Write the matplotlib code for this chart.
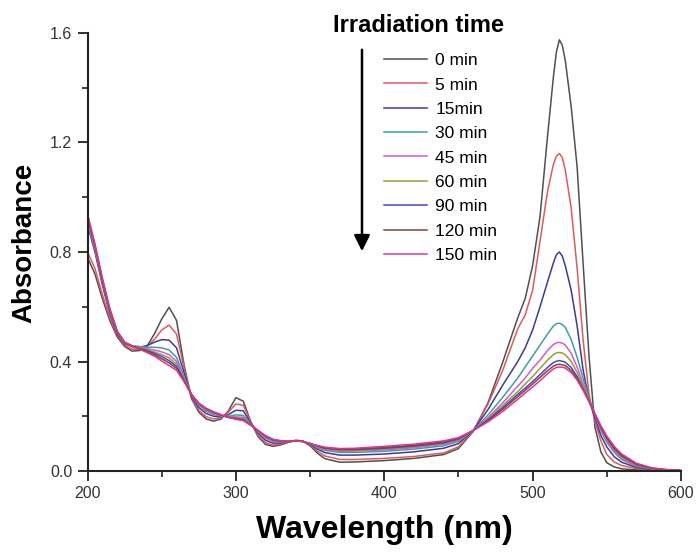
import matplotlib
matplotlib.use("Agg")
import matplotlib.pyplot as plt
from matplotlib.ticker import MultipleLocator

plt.rcParams['font.family'] = ['Liberation Sans', 'DejaVu Sans']

# wavelength grid (nm), shared by all spectra
wavelength = [200, 205, 210, 215, 220, 225, 230, 235, 240, 245, 250, 255, 260, 265,
              270, 275, 280, 285, 290, 295, 300, 305, 310, 315, 320, 325, 330, 335,
              340, 345, 350, 355, 360, 370, 380, 400, 420, 440, 450, 460, 470, 480,
              490, 495, 500, 505, 510, 514, 516, 518, 520, 522, 526, 530, 534, 538, 542, 546,
              550, 555, 560, 570, 580, 590, 600]

labels = ["0 min", "5 min", "15min", "30 min", "45 min", "60 min", "90 min", "120 min", "150 min"]
colors = ["#505050", "#e05a5a", "#3a3a9e", "#3e9ea6", "#d45ad4", "#9c9c34", "#4646cc", "#8c4040", "#e0358e"]

abs_0 = [0.78, 0.72, 0.63, 0.55, 0.49, 0.455, 0.438, 0.44, 0.455, 0.50, 0.555, 0.598, 0.55, 0.39,
         0.265, 0.215, 0.19, 0.182, 0.19, 0.22, 0.268, 0.255, 0.18, 0.125, 0.097, 0.09, 0.095, 0.104,
         0.112, 0.11, 0.092, 0.065, 0.045, 0.032, 0.033, 0.038, 0.046, 0.06, 0.082, 0.145, 0.25, 0.40,
         0.56, 0.63, 0.75, 0.93, 1.22, 1.44, 1.53, 1.575, 1.555, 1.50, 1.33, 1.11, 0.76, 0.42, 0.16, 0.07,
         0.03, 0.015, 0.008, 0.004, 0.002, 0.001, 0.0]
abs_5 = [0.80, 0.74, 0.645, 0.56, 0.495, 0.46, 0.445, 0.445, 0.455, 0.48, 0.515, 0.533, 0.50, 0.38,
         0.27, 0.222, 0.198, 0.19, 0.195, 0.215, 0.245, 0.24, 0.18, 0.13, 0.103, 0.095, 0.098, 0.105,
         0.112, 0.11, 0.095, 0.072, 0.055, 0.042, 0.042, 0.046, 0.053, 0.066, 0.088, 0.147, 0.245, 0.37,
         0.52, 0.57, 0.66, 0.84, 1.02, 1.12, 1.15, 1.16, 1.145, 1.10, 0.96, 0.74, 0.48, 0.28, 0.18, 0.11,
         0.06, 0.033, 0.02, 0.009, 0.004, 0.002, 0.001]
abs_15 = [0.90, 0.80, 0.68, 0.575, 0.50, 0.465, 0.455, 0.452, 0.458, 0.47, 0.48, 0.478, 0.45, 0.36,
          0.275, 0.232, 0.21, 0.20, 0.198, 0.206, 0.222, 0.22, 0.175, 0.138, 0.112, 0.102, 0.102, 0.106,
          0.11, 0.108, 0.097, 0.08, 0.067, 0.058, 0.058, 0.062, 0.07, 0.083, 0.10, 0.148, 0.225, 0.315,
          0.40, 0.45, 0.515, 0.60, 0.69, 0.76, 0.79, 0.80, 0.785, 0.75, 0.66, 0.53, 0.37, 0.26, 0.195, 0.13,
          0.088, 0.052, 0.032, 0.013, 0.006, 0.003, 0.001]
abs_30 = [0.91, 0.81, 0.69, 0.58, 0.505, 0.468, 0.458, 0.455, 0.452, 0.452, 0.45, 0.442, 0.415, 0.345,
          0.28, 0.24, 0.218, 0.207, 0.20, 0.20, 0.205, 0.203, 0.172, 0.143, 0.12, 0.108, 0.106, 0.107,
          0.11, 0.108, 0.099, 0.085, 0.075, 0.068, 0.068, 0.072, 0.08, 0.092, 0.108, 0.148, 0.205, 0.27,
          0.34, 0.38, 0.42, 0.46, 0.50, 0.53, 0.538, 0.54, 0.535, 0.525, 0.48, 0.415, 0.34, 0.265, 0.205, 0.148,
          0.105, 0.068, 0.042, 0.017, 0.008, 0.003, 0.001]
abs_45 = [0.92, 0.815, 0.695, 0.585, 0.507, 0.47, 0.458, 0.452, 0.447, 0.442, 0.435, 0.425, 0.40, 0.34,
          0.28, 0.243, 0.222, 0.21, 0.202, 0.198, 0.198, 0.196, 0.17, 0.145, 0.123, 0.11, 0.107, 0.108,
          0.11, 0.108, 0.10, 0.088, 0.079, 0.072, 0.073, 0.077, 0.085, 0.097, 0.112, 0.148, 0.195, 0.25,
          0.31, 0.34, 0.375, 0.405, 0.44, 0.462, 0.468, 0.47, 0.467, 0.46, 0.43, 0.38, 0.32, 0.26, 0.205, 0.153,
          0.11, 0.072, 0.046, 0.019, 0.009, 0.004, 0.001]
abs_60 = [0.92, 0.82, 0.70, 0.588, 0.508, 0.47, 0.457, 0.45, 0.443, 0.435, 0.425, 0.413, 0.39, 0.335,
          0.28, 0.245, 0.225, 0.212, 0.203, 0.197, 0.195, 0.192, 0.169, 0.146, 0.125, 0.112, 0.108, 0.108,
          0.11, 0.108, 0.10, 0.09, 0.081, 0.075, 0.075, 0.08, 0.088, 0.10, 0.115, 0.148, 0.19, 0.24,
          0.29, 0.318, 0.345, 0.375, 0.405, 0.425, 0.431, 0.433, 0.431, 0.425, 0.40, 0.36, 0.31, 0.258, 0.206, 0.157,
          0.115, 0.077, 0.05, 0.021, 0.009, 0.004, 0.001]
abs_90 = [0.93, 0.825, 0.70, 0.59, 0.51, 0.47, 0.456, 0.448, 0.44, 0.43, 0.418, 0.403, 0.382, 0.332,
          0.28, 0.246, 0.227, 0.214, 0.204, 0.196, 0.192, 0.188, 0.168, 0.147, 0.127, 0.114, 0.109, 0.108,
          0.11, 0.108, 0.10, 0.091, 0.083, 0.078, 0.078, 0.083, 0.091, 0.103, 0.117, 0.148, 0.187, 0.232,
          0.28, 0.303, 0.327, 0.352, 0.378, 0.396, 0.401, 0.403, 0.401, 0.397, 0.378, 0.345, 0.30, 0.255, 0.207, 0.16,
          0.12, 0.082, 0.055, 0.024, 0.01, 0.004, 0.002]
abs_120 = [0.93, 0.825, 0.70, 0.59, 0.51, 0.47, 0.455, 0.447, 0.437, 0.425, 0.41, 0.395, 0.375, 0.33,
           0.28, 0.247, 0.228, 0.215, 0.205, 0.196, 0.19, 0.186, 0.168, 0.148, 0.128, 0.115, 0.11, 0.108,
           0.11, 0.108, 0.10, 0.092, 0.085, 0.08, 0.08, 0.086, 0.094, 0.106, 0.119, 0.148, 0.184, 0.226,
           0.272, 0.295, 0.318, 0.342, 0.366, 0.383, 0.388, 0.39, 0.388, 0.385, 0.368, 0.338, 0.298, 0.255, 0.208, 0.162,
           0.123, 0.086, 0.058, 0.026, 0.011, 0.005, 0.002]
abs_150 = [0.94, 0.83, 0.705, 0.595, 0.512, 0.47, 0.454, 0.445, 0.433, 0.42, 0.402, 0.385, 0.368, 0.327,
           0.28, 0.248, 0.229, 0.216, 0.206, 0.196, 0.189, 0.184, 0.167, 0.148, 0.129, 0.116, 0.111, 0.109,
           0.11, 0.108, 0.10, 0.093, 0.087, 0.082, 0.083, 0.09, 0.098, 0.11, 0.122, 0.148, 0.18, 0.218,
           0.262, 0.285, 0.307, 0.33, 0.355, 0.373, 0.378, 0.38, 0.379, 0.376, 0.36, 0.332, 0.295, 0.254, 0.209, 0.165,
           0.128, 0.09, 0.062, 0.028, 0.012, 0.005, 0.002]

spectra = [abs_0, abs_5, abs_15, abs_30, abs_45, abs_60, abs_90, abs_120, abs_150]

fig = plt.figure(figsize=(6.96, 5.52), dpi=100)
ax = fig.add_axes([87.5 / 696, 81 / 552, (681 - 87.5) / 696, (471 - 33) / 552])

for y, lab, c in zip(spectra, labels, colors):
    ax.plot(wavelength, y, color=c, lw=1.1, label=lab)

ax.set_xlim(200, 600)
ax.set_ylim(0, 1.6)
ax.xaxis.set_major_locator(MultipleLocator(100))
ax.xaxis.set_minor_locator(MultipleLocator(50))
ax.yaxis.set_major_locator(MultipleLocator(0.4))
ax.yaxis.set_minor_locator(MultipleLocator(0.2))
ax.yaxis.set_major_formatter(plt.FuncFormatter(lambda v, p: f"{v:.1f}"))

for side in ["top", "right"]:
    ax.spines[side].set_visible(False)
for side in ["left", "bottom"]:
    ax.spines[side].set_linewidth(1.5)
    ax.spines[side].set_color("#222222")
ax.tick_params(which="major", direction="out", length=7, width=1.3, color="#222222",
               labelsize=11.5, labelcolor="#333333", pad=4)
ax.tick_params(which="minor", direction="out", length=4, width=1.2, color="#222222")

ax.set_xlabel("Wavelength (nm)", fontsize=23, fontweight="bold", labelpad=10)
ax.set_ylabel("Absorbance", fontsize=20, fontweight="bold")
ax.yaxis.set_label_coords(-0.085, 0.52)

leg = ax.legend(loc="upper left", bbox_to_anchor=(384 / 696, 1 - 53 / 552),
                bbox_transform=fig.transFigure, frameon=False, fontsize=12.5,
                handlelength=2.5, handletextpad=0.45, labelspacing=0.53,
                borderpad=0, borderaxespad=0)

fig.text(333 / 696, 1 - 25 / 552, "Irradiation time", fontsize=17, fontweight="bold",
         ha="left", va="center")
ax.annotate("", xy=(362 / 696, 1 - 254 / 552), xytext=(362 / 696, 1 - 47 / 552),
            xycoords="figure fraction", textcoords="figure fraction",
            arrowprops=dict(arrowstyle="-|>", lw=1.8, color="black", mutation_scale=24))

fig.savefig("out.png", dpi=100)
